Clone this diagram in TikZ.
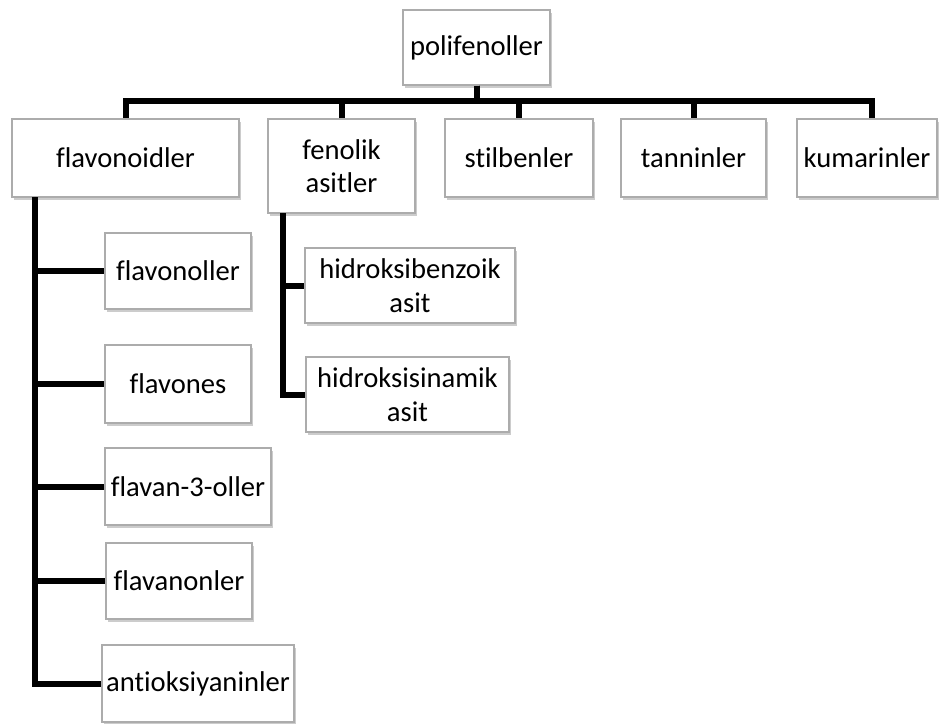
\documentclass[tikz,border=0pt]{standalone}
\usepackage{fontspec}
\setmainfont[Ligatures=NoCommon]{Carlito}
\usetikzlibrary{shadows}

\tikzset{
	box/.style = {
		draw=gray!65, line width=0.6pt, fill=white,
		drop shadow={shadow xshift=1.2pt, shadow yshift=-1.4pt, fill=black!40},
		inner sep=0pt, align=center,
		font=\fontsize{14.3}{16.8}\selectfont
	},
	conn/.style = {line width=3pt, line join=miter},
}

\begin{document}
\begin{tikzpicture}[x=0.5pt, y=-0.5pt]
		\useasboundingbox (0, 0) rectangle (939, 724);
		% top level
		\node [box, minimum width=73.5pt, minimum height=37.5pt] (poli) at (476.5, 47.5) {polifenoller};
		\node [box, minimum width=113.5pt, minimum height=39pt] (flav) at (125.5, 158) {flavonoidler};
		\node [box, minimum width=73.5pt, minimum height=47pt] (fenolik) at (341.5, 166) {fenolik\\asitler};
		\node [box, minimum width=74pt, minimum height=39pt] (stil) at (519, 158) {stilbenler};
		\node [box, minimum width=72.5pt, minimum height=39pt] (tan) at (693.5, 158) {tanninler};
		\node [box, minimum width=70pt, minimum height=39pt] (kum) at (867, 158) {kumarinler};
		% flavonoids
		\node [box, minimum width=73pt, minimum height=38pt] (flavonol) at (178, 271) {flavonoller};
		\node [box, minimum width=73pt, minimum height=39pt] (flavone) at (178, 384) {flavones};
		\node [box, minimum width=83pt, minimum height=38.5pt] (flavanol) at (188, 486.5) {flavan-3-oller};
		\node [box, minimum width=73pt, minimum height=38pt] (flavanon) at (179, 581) {flavanonler};
		\node [box, minimum width=96pt, minimum height=38.5pt] (antosiyan) at (198, 683.5) {antioksiyaninler};
		% phenolic acids
		\node [box, minimum width=105pt, minimum height=37.5pt] (hbenz) at (410, 285.5) {hidroksibenzoik\\asit};
		\node [box, minimum width=101.5pt, minimum height=37.5pt] (hsin) at (407.5, 394.5) {hidroksisinamik\\asit};

		\coordinate (bus) at (0, 101);
		\coordinate (ftrunk) at (35, 197);
		\coordinate (atrunk) at (283, 213);

		\foreach \n in {flav, fenolik, stil, tan}
			\draw [conn] (poli.south) -- (poli.south |- bus) -| (\n.north);
		\draw [conn] (poli.south) -- (poli.south |- bus) -| ([xshift=2.5pt]kum.north);
		\foreach \n in {flavonol, flavone, flavanol, flavanon, antosiyan}
			\draw [conn] (ftrunk) |- (\n.west);
		\foreach \n in {hbenz, hsin}
			\draw [conn] (atrunk) |- (\n.west);
	\end{tikzpicture}
\end{document}
